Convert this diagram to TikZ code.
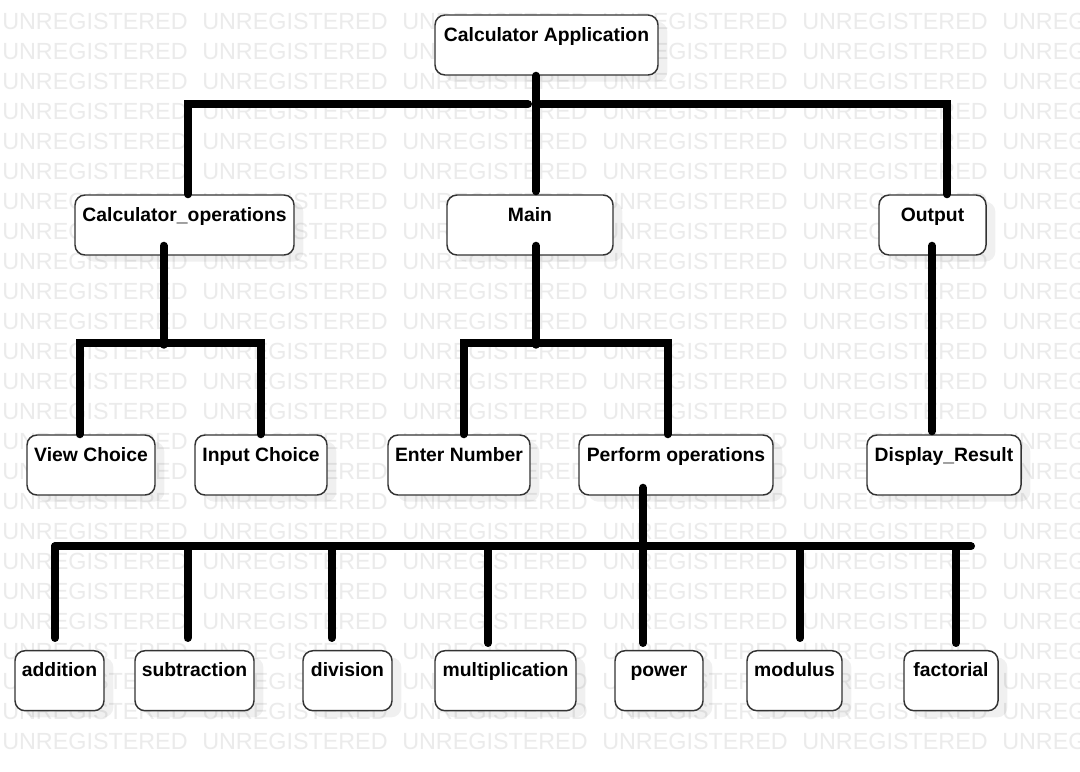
\documentclass[tikz,border=0pt]{standalone}
\usepackage{fontspec}
\setmainfont{Liberation Sans}
\usepackage{tikz}
\usetikzlibrary{calc,shadows}
\definecolor{boxline}{HTML}{333333}
\definecolor{wmark}{HTML}{EBEBEB}

\begin{document}
\begin{tikzpicture}[
  x=0.75pt, y=-0.75pt,
  box/.style={draw=boxline, line width=1.1pt, rounded corners=7.5pt, fill=white,
              inner sep=0pt, text height=19.5pt, text depth=25.5pt,
              minimum width=#1*0.75pt, font=\fontsize{14.5}{16}\selectfont\bfseries,
              drop shadow={shadow xshift=7pt, shadow yshift=-5pt, fill=black, opacity=0.06}},
  wm/.style={anchor=base west, inner sep=0pt, text=wmark, font=\fontsize{17.5}{18}\selectfont},
  link/.style={line width=6pt, line cap=round}
]
\fill[white] (0,0) rectangle (1080,771);
\useasboundingbox (0,0) rectangle (1080,771);

% watermark rows
\begin{scope}
\clip (0,0) rectangle (1080,771);
\foreach \r in {0,...,24}{
  \foreach \c in {0,...,5}{
    \node[wm] (wm-\r-\c) at (2+200*\c, 29+30*\r) {UNREGISTERED};}}
\end{scope}

% boxes
\node[box=223] (app) at (546.5,45) {Calculator Application};

\node[box=219] (calcops) at (184.5,225) {Calculator\_operations};
\node[box=166] (main) at (530,225) {Main};
\node[box=107] (output) at (932.5,225) {Output};

\node[box=128] (view) at (91,465) {View Choice};
\node[box=132] (input) at (261,465) {Input Choice};
\node[box=142] (enter) at (459,465) {Enter Number};
\node[box=194] (perform) at (676,465) {Perform operations};
\node[box=154] (display) at (944,465) {Display\_Result};

\node[box=89] (add) at (59.5,680.7) {addition};
\node[box=119] (sub) at (194.5,680.7) {subtraction};
\node[box=89] (div) at (347.5,680.7) {division};
\node[box=141] (mul) at (505.5,680.7) {multiplication};
\node[box=88] (pow) at (659,680.7) {power};
\node[box=95] (mod) at (794.5,680.7) {modulus};
\node[box=94] (fact) at (951,680.7) {factorial};

% top level
\draw[link] ($(app.south)+(-10.5,0)$) -- ($(main.north)+(6,-3)$);
\draw[link] ($(calcops.north)+(3.5,0)$) |- ($(app.south)+(-18.5,28.5)$);
\draw[link] ($(app.south)+(-10.5,28.5)$) -| ($(output.north)+(14.5,0)$);

% second level
\draw[link] ($(calcops.south)+(-21,-10)$) -- ($(calcops.south)+(-21,89)$);
\draw[link] ($(view.north)+(-11.5,0)$) |- ($(input.north)+(-0.5,-91)$) -- ($(input.north)+(-0.5,0)$);
\draw[link] ($(main.south)+(6,-10)$) -- ($(main.south)+(6,89)$);
\draw[link] ($(enter.north)+(4.5,0)$) |- ($(perform.north)+(-8.5,-91)$) -- ($(perform.north)+(-8.5,0)$);
\draw[link] ($(output.south)+(-0.5,-10)$) -- ($(display.north)+(-12,-3)$);

% operations
\draw[link] ($(perform.south)+(-33,-8)$) -- ($(perform.south)+(-33,52)$);
\draw[link] ($(add.north)+(-4.5,-103.7)$) -- ($(fact.north)+(20,-103.7)$);
\foreach \n/\dx/\dy in {add/-4.5/-12, sub/-7/-12, div/-16/-12, mul/-17.5/-7,
                        pow/-16/-7, mod/5.5/-12, fact/5/-7}
  \draw[link] ($(\n.north)+(\dx,-103.7)$) -- ($(\n.north)+(\dx,\dy)$);
\end{tikzpicture}
\end{document}
